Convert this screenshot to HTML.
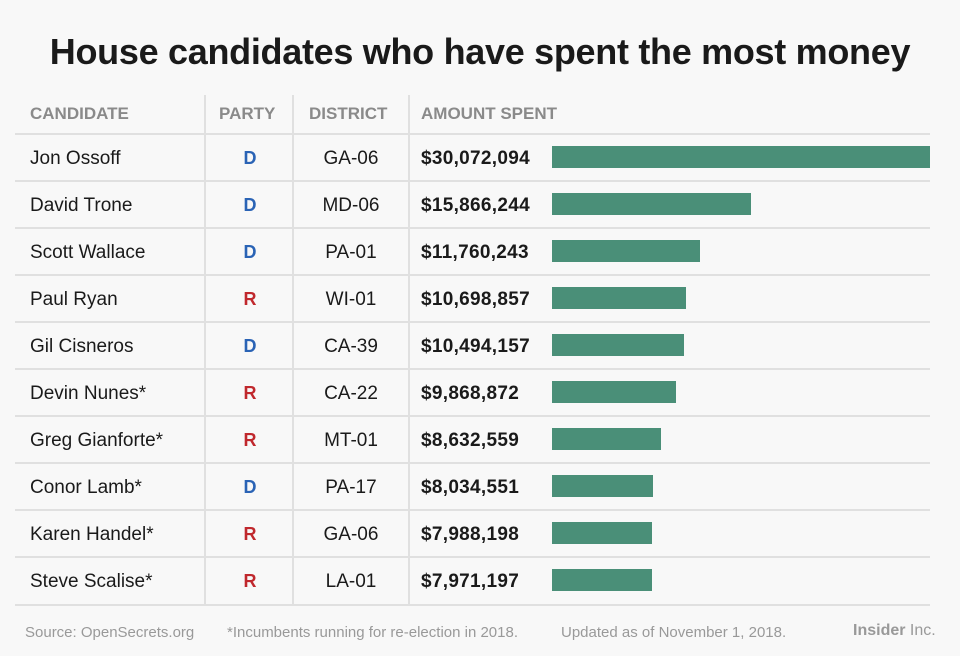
<!DOCTYPE html>
<html><head><style>
body{margin:0;width:960px;height:656px;background:#f8f8f8;font-family:"Liberation Sans",sans-serif;position:relative;overflow:hidden}
.t{position:absolute;white-space:nowrap}
.title{left:0;width:960px;text-align:center;top:31px;font-size:36px;font-weight:bold;color:#1a1a1a;letter-spacing:-0.3px}
.h{font-size:17px;color:#8a8a8a;top:104px;font-weight:bold}
.hl{position:absolute;left:15px;width:915px;height:2px;background:#e0e0e0}
.vl{position:absolute;top:95px;height:510px;width:2px;background:#e0e0e0}
.n{font-size:19px;color:#1a1a1a}
.p{font-size:18px;font-weight:bold;width:40px;text-align:center;left:230px}
.d{font-size:19px;color:#1a1a1a;width:116px;text-align:center;left:293px}
.a{font-size:19px;font-weight:bold;color:#1a1a1a;left:421px;letter-spacing:0.3px}
.b{position:absolute;left:552px;height:22px;background:#4a8f78}
.f{font-size:15px;color:#999;top:624px}
</style></head><body>
<div class="t title">House candidates who have spent the most money</div>
<div class="t h" style="left:30px">CANDIDATE</div>
<div class="t h" style="left:219px">PARTY</div>
<div class="t h" style="left:309px">DISTRICT</div>
<div class="t h" style="left:421px">AMOUNT SPENT</div>
<div class="vl" style="left:204px"></div>
<div class="vl" style="left:292px"></div>
<div class="vl" style="left:408px"></div>
<div id="rows"></div>
<div class="t f" style="left:25px">Source: OpenSecrets.org</div>
<div class="t f" style="left:227px">*Incumbents running for re-election in 2018.</div>
<div class="t f" style="left:561px">Updated as of November 1, 2018.</div>
<div class="t f" style="left:853px;font-size:16px;top:622px"><b>Insider</b> Inc.</div>
<script>
var d=[["Jon Ossoff","D","GA-06","$30,072,094",30072094],["David Trone","D","MD-06","$15,866,244",15866244],["Scott Wallace","D","PA-01","$11,760,243",11760243],["Paul Ryan","R","WI-01","$10,698,857",10698857],["Gil Cisneros","D","CA-39","$10,494,157",10494157],["Devin Nunes*","R","CA-22","$9,868,872",9868872],["Greg Gianforte*","R","MT-01","$8,632,559",8632559],["Conor Lamb*","D","PA-17","$8,034,551",8034551],["Karen Handel*","R","GA-06","$7,988,198",7988198],["Steve Scalise*","R","LA-01","$7,971,197",7971197]];
var h='';
for(var i=0;i<10;i++){var c=157+47*i,r=d[i];
h+='<div class="hl" style="top:'+(c-24)+'px"></div>';
h+='<div class="t n" style="left:30px;top:'+(c-9)+'px">'+r[0]+'</div>';
h+='<div class="t p" style="top:'+(c-9)+'px;color:'+(r[1]=="D"?"#2a63b5":"#c0282d")+'">'+r[1]+'</div>';
h+='<div class="t d" style="top:'+(c-9)+'px">'+r[2]+'</div>';
h+='<div class="t a" style="top:'+(c-9)+'px">'+r[3]+'</div>';
h+='<div class="b" style="top:'+(c-11)+'px;width:'+Math.round(378*r[4]/30072094)+'px"></div>';}
h+='<div class="hl" style="top:604px"></div>';
document.getElementById('rows').innerHTML=h;
</script>
</body></html>
